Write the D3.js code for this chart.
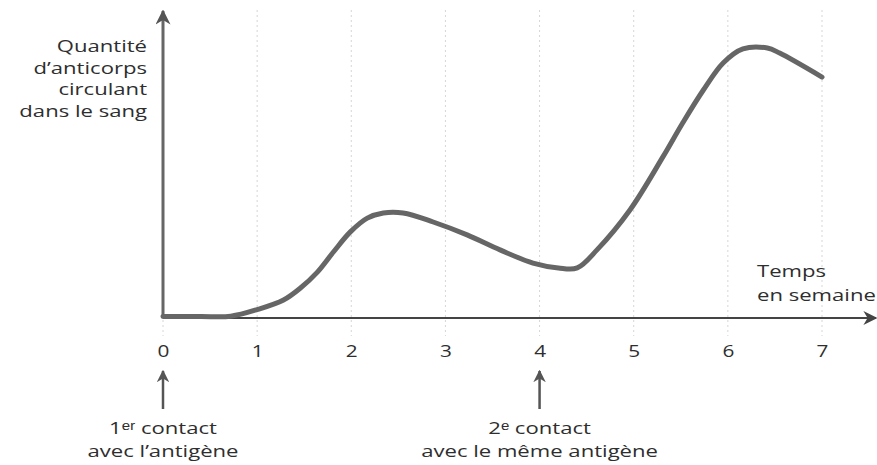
<!DOCTYPE html>
<html><head><meta charset="utf-8">
<script src="https://cdn.jsdelivr.net/npm/d3@7"></script>
<style>body{margin:0;background:#fff}svg{display:block}text{font-family:"Open Sans",sans-serif;fill:#2e2e2e}</style>
</head><body><svg id="c" width="877" height="465"></svg>
<script>
const weeks = [0, 0.4, 0.72, 1, 1.28, 1.46, 1.64, 1.81, 1.99, 2.17, 2.34, 2.55, 2.87, 3.23, 3.58, 3.93, 4.2, 4.4, 4.61, 4.96, 5.31, 5.52, 5.74, 5.95, 6.16, 6.42, 6.55, 7];
const antibodies = [0.05, 0.05, 0.06, 0.28, 0.6, 1.0, 1.53, 2.2, 2.87, 3.33, 3.5, 3.5, 3.2, 2.77, 2.27, 1.83, 1.67, 1.67, 2.27, 3.6, 5.37, 6.5, 7.6, 8.5, 8.97, 9.0, 8.83, 8.03];
const xTicks = [0, 1, 2, 3, 4, 5, 6, 7];
const yLabel = ["Quantité", "d’anticorps", "circulant", "dans le sang"];
const xLabel = ["Temps", "en semaine"];
const contacts = [
  {week: 0, lines: ["1ᵉʳ contact", "avec l’antigène"]},
  {week: 4, lines: ["2ᵉ contact", "avec le même antigène"]}
];

const SX = 1.3; // horizontal stretch of the scanned lettering
const svg = d3.select("#c");
const x = d3.scaleLinear().domain([0, 7]).range([163, 822]);
const y = d3.scaleLinear().domain([0, 10]).range([318, 18]);

function label(g, tx, ty, txt, anchor, size) {
  g.append("text").attr("transform", `translate(${tx},${ty}) scale(${SX},1)`)
    .attr("text-anchor", anchor).attr("font-size", size).text(txt);
}

// grid lines
svg.append("g").selectAll("line").data(xTicks).join("line")
  .attr("x1", d => x(d)).attr("x2", d => x(d))
  .attr("y1", 10).attr("y2", 336)
  .attr("stroke", "#d6d6d6").attr("stroke-width", 1).attr("stroke-dasharray", "2,3");

// markers
const defs = svg.append("defs");
defs.append("marker").attr("id", "ah").attr("viewBox", "0 0 10 10").attr("refX", 9).attr("refY", 5)
  .attr("markerWidth", 5).attr("markerHeight", 5).attr("orient", "auto").attr("markerUnits", "strokeWidth")
  .append("path").attr("d", "M0,0 L10,5 L0,10 L3,5 Z").attr("fill", "#555");
defs.append("marker").attr("id", "ah2").attr("viewBox", "0 0 10 10").attr("refX", 9).attr("refY", 5)
  .attr("markerWidth", 8).attr("markerHeight", 7).attr("orient", "auto").attr("markerUnits", "strokeWidth")
  .append("path").attr("d", "M0,0 L10,5 L0,10 L3,5 Z").attr("fill", "#444");

// axes
svg.append("line").attr("x1", x(0)).attr("x2", x(0)).attr("y1", y(0)).attr("y2", 11)
  .attr("stroke", "#666").attr("stroke-width", 3).attr("marker-end", "url(#ah)");
svg.append("line").attr("x1", x(0)).attr("x2", 876).attr("y1", y(0)).attr("y2", y(0))
  .attr("stroke", "#444").attr("stroke-width", 2).attr("marker-end", "url(#ah2)");

// tick labels via d3 axis
const xAxis = d3.axisBottom(x).tickValues(xTicks).tickSize(0).tickPadding(0).tickFormat(d3.format("d"));
const ax = svg.append("g").attr("transform", `translate(0,${y(0)})`).call(xAxis);
ax.select(".domain").remove();
ax.selectAll("text").attr("dy", null).attr("y", 0)
  .attr("transform", `translate(0,39) scale(${SX},1)`)
  .attr("font-size", 16).style("font-family", '"Open Sans",sans-serif').attr("fill", "#2e2e2e");

// curve
const line = d3.line().x((d, i) => x(weeks[i])).y(d => y(d)).curve(d3.curveCatmullRom.alpha(0.5));
svg.append("path").attr("d", line(antibodies)).attr("fill", "none")
  .attr("stroke", "#666").attr("stroke-width", 5).attr("stroke-linecap", "round").attr("stroke-linejoin", "round");

// y label
const yg = svg.append("g");
yLabel.forEach((t, i) => label(yg, 147, 52 + i * 21.7, t, "end", 17));

// x label
const xg = svg.append("g");
xLabel.forEach((t, i) => label(xg, 757, 277 + i * 24, t, "start", 17));

// contact arrows
contacts.forEach(c => {
  const g = svg.append("g");
  g.append("line").attr("x1", x(c.week)).attr("x2", x(c.week)).attr("y1", 409).attr("y2", 371)
    .attr("stroke", "#555").attr("stroke-width", 2.5).attr("marker-end", "url(#ah)");
  c.lines.forEach((t, i) => label(g, x(c.week), 434 + i * 22.5, t, "middle", 17));
});
</script></body></html>
